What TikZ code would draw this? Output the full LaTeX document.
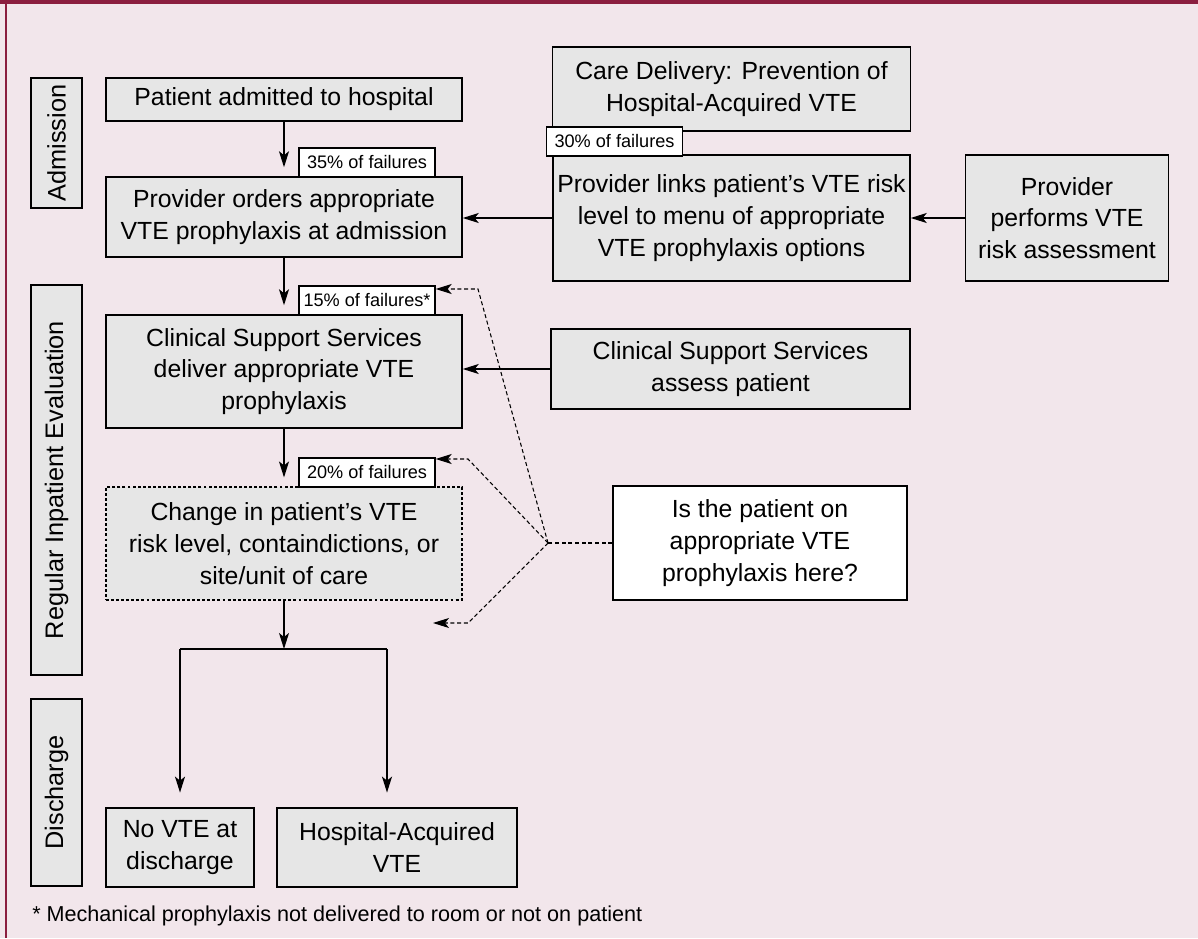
\documentclass[tikz,border=0pt]{standalone}
\usepackage{fontspec}
\setmainfont{Liberation Sans}
\usetikzlibrary{arrows.meta}
\definecolor{bgpink}{HTML}{F2E6EB}
\definecolor{boxgray}{HTML}{E6E6E6}
\definecolor{framered}{HTML}{8B1E3F}
\begin{document}
\begin{tikzpicture}[x=0.75pt,y=-0.75pt,
  box/.style={draw=black, fill=boxgray, line width=1.1pt, inner sep=0pt, align=center,
    font=\fontsize{18.6}{23.8}\selectfont},
  tabbox/.style={box, rotate=90, font=\fontsize{19}{22}\selectfont},
  tagbox/.style={draw=black, fill=white, line width=1pt, inner sep=0pt,
    minimum width=102pt, minimum height=21.75pt, font=\fontsize{13.6}{16}\selectfont},
  conn/.style={line width=1.1pt, -{Stealth[length=12pt,width=7.5pt,inset=3pt]}},
  dconn/.style={line width=0.8pt, dash pattern=on 3pt off 2pt},
  darrow/.style={dconn, -{Stealth[length=12pt,width=7.5pt,inset=3pt]}}]
\useasboundingbox (0,0) rectangle (1198,938);
\fill[bgpink] (0,0) rectangle (1198,938);
\fill[framered] (0,0) rectangle (1198,4);
\draw[framered, line width=1.2pt] (6,0) -- (6,938);

% phase tabs (width/height swapped because rotated)
\node[tabbox, minimum width=97.5pt, minimum height=38.25pt] (tadm) at (56.5,143) {Admission};
\node[tabbox, minimum width=292.5pt, minimum height=38.25pt] (treg) at (56.5,480) {Regular Inpatient Evaluation};
\node[tabbox, minimum width=140.25pt, minimum height=38.25pt] (tdis) at (56.5,792.5) {Discharge};

% main column
\node[box, minimum width=267pt, minimum height=32.25pt] (patient) at (284,99.5) {Patient admitted to hospital};
\node[box, minimum width=267pt, minimum height=60pt] (orders) at (284,217) {Provider orders appropriate\\VTE prophylaxis at admission};
\node[box, minimum width=267pt, minimum height=84.75pt] (deliver) at (284,371.5) {Clinical Support Services\\deliver appropriate VTE\\prophylaxis};
\node[box, dash pattern=on 2.2pt off 1.6pt, line width=0.8pt, minimum width=267pt, minimum height=84.75pt] (change) at (284,543.5) {Change in patient’s VTE\\risk level, containdictions, or\\site/unit of care};
\node[box, minimum width=111pt, minimum height=59.25pt] (novte) at (180,847.5) {No VTE at\\discharge};
\node[box, minimum width=180pt, minimum height=59.25pt] (hosp) at (397,847.5) {Hospital-Acquired\\VTE};

% right side
\node[box, minimum width=268.5pt, minimum height=63pt] (care) at (731.5,89) {Care Delivery: Prevention of\\Hospital-Acquired VTE};
\node[box, minimum width=267.75pt, minimum height=94.5pt] (links) at (731.5,218) {Provider links patient’s VTE risk\\level to menu of appropriate\\VTE prophylaxis options};
\node[box, minimum width=152.25pt, minimum height=94.5pt] (perf) at (1067,218) {Provider\\performs VTE\\risk assessment};
\node[box, minimum width=269.25pt, minimum height=60pt] (assess) at (730.5,369) {Clinical Support Services\\assess patient};
\node[box, fill=white, minimum width=220.5pt, minimum height=85.5pt] (isq) at (760,543) {Is the patient on\\appropriate VTE\\prophylaxis here?};

% failure tags
\node[tagbox] (tag30) at (614.5,141.5) {30\% of failures};
\node[tagbox] (tag35) at (367,162.5) {35\% of failures};
\node[tagbox] (tag15) at (367,300.5) {15\% of failures*};
\node[tagbox] (tag20) at (367,472.5) {20\% of failures};

% solid connectors
\draw[conn, shorten >=6.75pt] (patient.south) -- (patient.south |- orders.north);
\draw[conn, shorten >=6.75pt] (orders.south) -- (orders.south |- deliver.north);
\draw[conn, shorten >=6.75pt] (deliver.south) -- (deliver.south |- change.north);
\draw[conn] (links.west) -- (links.west -| orders.east);
\draw[conn] (perf.west) -- (links.east);
\draw[conn] (assess.west) -- (assess.west -| deliver.east);

\coordinate (j) at (284,649);
\coordinate (jl) at (180,649);
\coordinate (jr) at (387,649);
\draw[conn] (change.south) -- (j);
\draw[line width=1.1pt] (jl) -- (jr);
\draw[conn, shorten >=11pt] (jl) -- (jl |- novte.north);
\draw[conn, shorten >=11pt] (jr) -- (jr |- hosp.north);

% dashed connectors
\coordinate (conv) at (548,543);
\coordinate (b1) at (478,289);
\coordinate (b2) at (468,459);
\coordinate (b3) at (468,623);
\coordinate (e3) at (433,623);
\draw[dconn] (isq.west) -- (conv);
\draw[darrow] (conv) -- (b1) -- (b1 -| tag15.east);
\draw[darrow] (conv) -- (b2) -- (b2 -| tag20.east);
\draw[darrow] (conv) -- (b3) -- (e3);

% footnote
\node[anchor=base west, inner sep=0pt, font=\fontsize{16.2}{19}\selectfont] (foot) at (32,921) {* Mechanical prophylaxis not delivered to room or not on patient};
\end{tikzpicture}
\end{document}
